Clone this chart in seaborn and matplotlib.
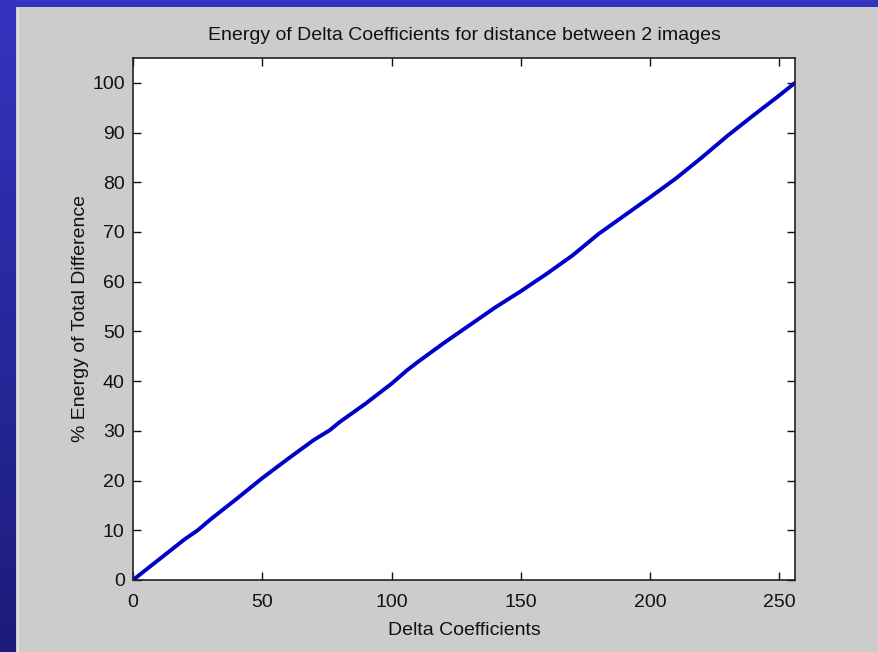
import numpy as np
import pandas as pd
import seaborn as sns
import matplotlib.pyplot as plt
from matplotlib.patches import Rectangle
from matplotlib.colors import LinearSegmentedColormap

# values
coeffs = [0, 10, 20, 25, 30, 40, 50, 60, 70, 76, 80, 90, 100, 106, 110, 120, 130,
          140, 150, 160, 170, 180, 190, 200, 210, 220, 230, 240, 250, 256]
energy = [0, 4.1, 8.2, 10.0, 12.2, 16.3, 20.5, 24.4, 28.2, 30.1, 31.8, 35.5, 39.5,
          42.2, 43.8, 47.6, 51.2, 54.8, 58.1, 61.6, 65.3, 69.6, 73.3, 77.0, 80.8,
          85.0, 89.4, 93.5, 97.5, 100.0]
x_ticks = [0, 50, 100, 150, 200, 250]
y_ticks = [0, 10, 20, 30, 40, 50, 60, 70, 80, 90, 100]

df = pd.DataFrame({'coeff': coeffs, 'energy': energy})

sns.set_style("ticks")
plt.rcParams['font.family'] = ['Liberation Sans', 'DejaVu Sans']

W, H = 879, 652
fig = plt.figure(figsize=(W / 100, H / 100), dpi=100)

# slide background: blue gradient
bg = fig.add_axes([0, 0, 1, 1], zorder=-10)
grad = np.linspace(0, 1, 256).reshape(-1, 1)
blue = LinearSegmentedColormap.from_list('slide', ['#3434c0', '#1c1c7a'])
bg.imshow(grad, aspect='auto', cmap=blue, extent=[0, 1, 0, 1], origin='upper')
bg.set_axis_off()

# MATLAB grey figure window
fig.patches.append(Rectangle((16 / W, 0), 1 - 16 / W, (H - 7) / H,
                             transform=fig.transFigure, facecolor='#cccccc',
                             edgecolor='none', zorder=-5))
fig.patches.append(Rectangle((17 / W, 0), 2 / W, (H - 8) / H,
                             transform=fig.transFigure, facecolor='#e0e0e0',
                             edgecolor='none', zorder=-4))

ax = fig.add_axes([133 / W, (H - 580) / H, (795 - 133) / W, (580 - 58) / H])
ax.set_facecolor('white')
sns.lineplot(data=df, x='coeff', y='energy', ax=ax, color='#0000c8', linewidth=2.8)

ax.set_xlim(0, 256)
ax.set_ylim(0, 105)
ax.set_xticks(x_ticks)
ax.set_yticks(y_ticks)
ax.tick_params(direction='in', length=6, width=1, top=True, right=True,
               labelsize=14, colors='#111111', pad=6)
ax.tick_params(axis='x', pad=10)
for s in ax.spines.values():
    s.set_visible(True)
    s.set_color('#222222')
    s.set_linewidth(1.2)

ax.set_title('Energy of Delta Coefficients for distance between 2 images',
             fontsize=14, color='#111111', pad=13)
ax.set_xlabel('Delta Coefficients', fontsize=14, color='#111111', labelpad=8)
ax.set_ylabel('% Energy of Total Difference', fontsize=14, color='#111111', labelpad=2)

fig.savefig('out.png', dpi=100)
